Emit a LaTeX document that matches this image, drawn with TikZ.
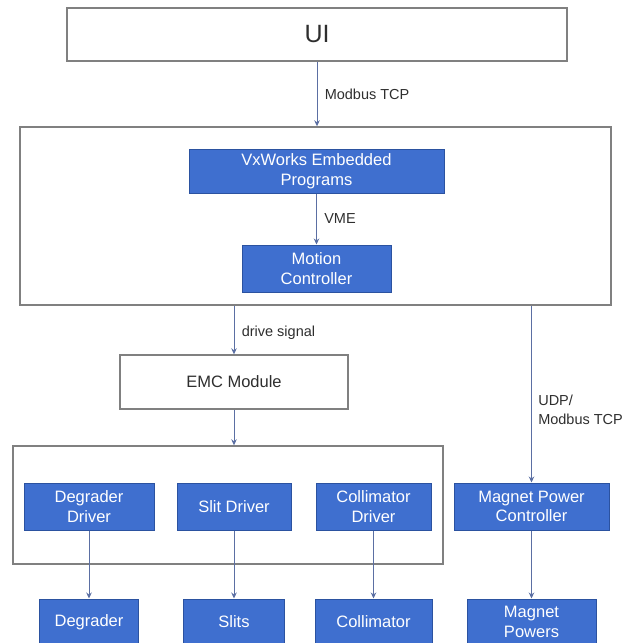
\documentclass[tikz,border=0pt]{standalone}
\usepackage{fontspec}
\setmainfont{Liberation Sans}
\usetikzlibrary{arrows.meta, positioning}
\definecolor{cblue}{HTML}{3F6FCF}
\definecolor{cdblue}{HTML}{2B52A0}
\definecolor{cline}{HTML}{5B6FA3}
\definecolor{cgrey}{HTML}{808080}
\definecolor{ctext}{HTML}{2E2E2E}
\tikzset{
  every picture/.style={line width=0.8pt},
  frame/.style={draw=cgrey, line width=1.4pt, inner sep=0pt, text=ctext, font=\fontsize{16.5}{19}\selectfont},
  unit/.style={draw=cdblue, fill=cblue, text=white, align=center, inner sep=0pt, line width=1pt, font=\fontsize{16.5}{19.5}\selectfont},
  arrow/.style={-{Stealth[length=6pt, width=5.5pt]}, draw=cline, line width=0.9pt},
  note/.style={font=\fontsize{14.5}{19}\selectfont, text=ctext, align=left, anchor=west},
}
\begin{document}
\begin{tikzpicture}[x=1pt, y=-1pt]
  \clip (0,0) rectangle (626,643);
  \node[frame, minimum width=500pt, minimum height=53pt, font=\fontsize{25}{30}\selectfont] (ui) at (317,34.5) {UI};
  \node[frame, minimum width=591pt, minimum height=178pt] (host) at (315.5,216) {};
  \node[unit, minimum width=255pt, minimum height=44pt] (vx) at (316.5,171) {VxWorks Embedded\\Programs};
  \node[unit, minimum width=149pt, minimum height=47pt] (mc) at (316.5,268.5) {Motion\\Controller};
  \node[frame, minimum width=228pt, minimum height=54pt] (emc) at (234,382) {EMC Module};
  \node[frame, minimum width=430pt, minimum height=118pt] (drv) at (228,505) {};
  \node[unit, minimum width=155pt, minimum height=47pt] (mpc) at (531.5,506.5) {Magnet Power\\Controller};
  \node[unit, minimum width=129pt, minimum height=46pt] (mpw) at (531.5,622) {Magnet\\Powers};
  \foreach \n/\x/\w/\lab/\tw/\tlab in {deg/89/130/Degrader\\Driver/99/Degrader, slit/234/114/Slit Driver/101/Slits, col/373.5/115/Collimator\\Driver/117/Collimator} {
    \node[unit, minimum width=\w pt, minimum height=47pt] (\n) at (\x,506.5) {\lab};
    \node[unit, minimum width=\tw pt, minimum height=46pt] (\n t) at (\x,622) {\tlab};
    \draw[arrow] (\n.south) -- (\n t.north);
  }
  \draw[arrow] (ui.south) -- node[note, xshift=4pt] {Modbus TCP} (ui.south |- host.north);
  \draw[arrow] (vx.south) -- node[note, xshift=4pt] {VME} (mc.north);
  \draw[arrow] (emc.north |- host.south) -- node[note, pos=0.56, xshift=4pt] {drive signal} (emc.north);
  \draw[arrow] (emc.south) -- (emc.south |- drv.north);
  \draw[arrow] (mpc.north |- host.south) -- node[note, pos=0.59, xshift=3pt] {UDP/\\Modbus TCP} (mpc.north);
  \draw[arrow] (mpc.south) -- (mpw.north);
\end{tikzpicture}
\end{document}
